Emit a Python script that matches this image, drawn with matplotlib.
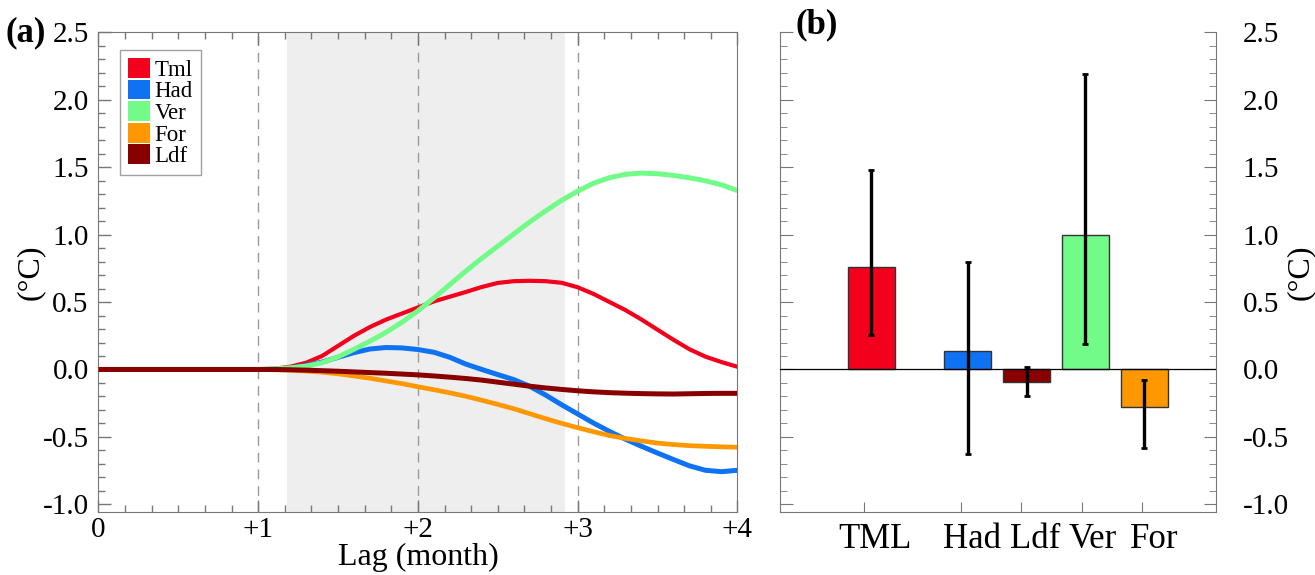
import matplotlib
matplotlib.use("Agg")
import matplotlib.pyplot as plt
from matplotlib.patches import Patch
from matplotlib.ticker import MultipleLocator

plt.rcParams['font.family'] = ['Liberation Serif', 'DejaVu Serif']

# ---- panel (a): lagged composite of heat budget terms ----
lag = [0.0, 0.5,
       1.0, 1.1, 1.2, 1.3, 1.4, 1.5, 1.6, 1.7, 1.8, 1.9,
       2.0, 2.1, 2.2, 2.3, 2.4, 2.5, 2.6, 2.7, 2.8, 2.9,
       3.0, 3.1, 3.2, 3.3, 3.4, 3.5, 3.6, 3.7, 3.8, 3.9, 4.0]
tml = [0.0, 0.0,
       0.0, 0.005, 0.02, 0.05, 0.10, 0.175, 0.25, 0.315, 0.37, 0.415,
       0.46, 0.505, 0.54, 0.575, 0.612, 0.642, 0.655, 0.658, 0.655, 0.643,
       0.61, 0.56, 0.50, 0.44, 0.37, 0.295, 0.22, 0.15, 0.095, 0.055, 0.02]
had = [0.0, 0.0,
       0.0, 0.002, 0.01, 0.03, 0.055, 0.09, 0.125, 0.152, 0.163, 0.16,
       0.148, 0.128, 0.09, 0.04, 0.0, -0.038, -0.075, -0.125, -0.19, -0.262,
       -0.33, -0.398, -0.46, -0.518, -0.57, -0.62, -0.668, -0.715, -0.748, -0.758, -0.748]
ver = [0.0, 0.0,
       0.0, 0.005, 0.012, 0.025, 0.05, 0.093, 0.15, 0.21, 0.275, 0.35,
       0.435, 0.53, 0.63, 0.73, 0.825, 0.915, 1.005, 1.095, 1.177, 1.255,
       1.323, 1.382, 1.423, 1.448, 1.457, 1.452, 1.44, 1.422, 1.40, 1.37, 1.327]
forc = [0.0, 0.0,
        0.0, -0.002, -0.005, -0.012, -0.02, -0.032, -0.048, -0.065, -0.085, -0.105,
        -0.128, -0.15, -0.173, -0.199, -0.228, -0.259, -0.291, -0.328, -0.365, -0.40,
        -0.432, -0.462, -0.49, -0.512, -0.53, -0.546, -0.557, -0.565, -0.57, -0.574, -0.577]
ldf = [0.0, 0.0,
       0.0, 0.0, -0.002, -0.005, -0.009, -0.013, -0.018, -0.023, -0.028, -0.034,
       -0.04, -0.048, -0.057, -0.067, -0.079, -0.094, -0.109, -0.124, -0.137, -0.148,
       -0.158, -0.166, -0.172, -0.176, -0.179, -0.181, -0.182, -0.18, -0.178, -0.177, -0.177]

shade = (1.18, 2.92)
lag_ticks = [0, 1, 2, 3, 4]
lag_labels = ['0', '+1', '+2', '+3', '+4']

# ---- panel (b): averaged terms with spread ----
bar_names = ['TML', 'Had', 'Ldf', 'Ver', 'For']
bar_vals = [0.76, 0.14, -0.09, 1.0, -0.28]
err_low = [0.255, -0.63, -0.20, 0.19, -0.58]
err_high = [1.48, 0.80, 0.02, 2.19, -0.08]

red = '#f2001c'
blue = '#0f72f2'
green = '#72fb88'
orange = '#ff9800'
dred = '#880000'
bar_cols = [red, blue, dred, green, orange]

fig = plt.figure(figsize=(13.15, 5.75), dpi=100)
ax = fig.add_axes([0.0748, 0.1101, 0.486, 0.8334])
bx = fig.add_axes([0.5932, 0.1101, 0.3316, 0.8334])

spine_c = '#777777'

ax.axvspan(*shade, color='#eeeeee', lw=0, zorder=0)
for v in [1, 2, 3]:
    ax.axvline(v, color='#9a9a9a', lw=1.0, ls=(0, (7, 5)), zorder=1)

series = [('Tml', tml, red, 3.0), ('Had', had, blue, 3.6),
          ('Ver', ver, green, 3.6), ('For', forc, orange, 3.4),
          ('Ldf', ldf, dred, 3.6)]
for name, vals, col, lw in series:
    ax.plot(lag, vals, color=col, lw=lw, solid_joinstyle='round',
            solid_capstyle='butt', zorder=3)

ax.set_xlim(0, 4)
ax.set_ylim(-1.055, 2.5)
ax.set_xticks(lag_ticks, lag_labels)
ax.xaxis.set_minor_locator(MultipleLocator(1 / 6))
ax.yaxis.set_major_locator(MultipleLocator(0.5))
ax.yaxis.set_minor_locator(MultipleLocator(0.1))
ax.set_yticklabels([f'{t:.1f}' for t in ax.get_yticks()])
ax.tick_params(which='both', direction='in', color=spine_c, labelsize=21,
               top=True, right=False)
ax.tick_params(which='major', length=9, width=1)
ax.tick_params(which='minor', length=5, width=1)
ax.tick_params(axis='y', pad=7)
ax.tick_params(axis='x', pad=4)
for s in ax.spines.values():
    s.set_color(spine_c)
ax.set_xlabel('Lag (month)', fontsize=23, labelpad=0)
ax.set_ylabel('(°C)', fontsize=23, labelpad=-2)

handles = [Patch(facecolor=c, edgecolor='none', label=n) for n, _, c, _ in series]
leg = ax.legend(handles=handles, loc='upper left', bbox_to_anchor=(0.034, 0.9635),
                borderaxespad=0, fontsize=16.5, frameon=True, fancybox=False,
                handlelength=0.95, handleheight=0.95, handletextpad=0.2,
                labelspacing=-0.05, borderpad=0.35)
leg.get_frame().set_edgecolor('#888888')
leg.get_frame().set_linewidth(1.0)

ax.text(-0.145, 1.0, '(a)', transform=ax.transAxes, fontsize=25,
        fontweight='bold', va='center', ha='left')

# ---- panel (b) ----
bar_pos = [1.36, 3, 4, 5, 6]
tick_pos = [1.24, 2.88, 3.91, 4.94, 5.96]
label_pos = [1.42, 3.07, 4.14, 5.12, 6.17]

yerr = [[v - lo for v, lo in zip(bar_vals, err_low)],
        [hi - v for v, hi in zip(bar_vals, err_high)]]
bx.bar(bar_pos, bar_vals, width=0.8, color=bar_cols, edgecolor='#333333',
       linewidth=1.0, zorder=2)
bx.errorbar(bar_pos, bar_vals, yerr=yerr, fmt='none', ecolor='black',
            elinewidth=2.4, capsize=2, capthick=2, zorder=4)
bx.axhline(0, color='black', lw=0.9, zorder=3)

bx.set_xlim(-0.19, 7.22)
bx.set_ylim(-1.055, 2.5)
bx.set_xticks(tick_pos, [''] * len(tick_pos))
bx.set_xticks(label_pos, bar_names, minor=True)
bx.tick_params(axis='x', which='major', direction='in', length=7, color=spine_c)
bx.tick_params(axis='x', which='minor', length=0, labelsize=25, pad=8)
bx.yaxis.set_major_locator(MultipleLocator(0.5))
bx.yaxis.set_minor_locator(MultipleLocator(0.1))
bx.yaxis.tick_right()
bx.set_yticklabels([f'{t:.1f}' for t in bx.get_yticks()])
bx.tick_params(axis='y', which='both', direction='in', left=True, right=True,
               color=spine_c, labelsize=21, pad=19)
bx.tick_params(axis='y', which='major', length=9)
bx.tick_params(axis='y', which='minor', length=5)
bx.spines['top'].set_visible(False)
for k in ['left', 'right', 'bottom']:
    bx.spines[k].set_color(spine_c)
bx.yaxis.set_label_position('right')
bx.set_ylabel('(°C)', fontsize=23, labelpad=-2)

bx.text(0.035, 1.015, '(b)', transform=bx.transAxes, fontsize=25,
        fontweight='bold', va='center', ha='left')

fig.savefig('out.png', dpi=100)
